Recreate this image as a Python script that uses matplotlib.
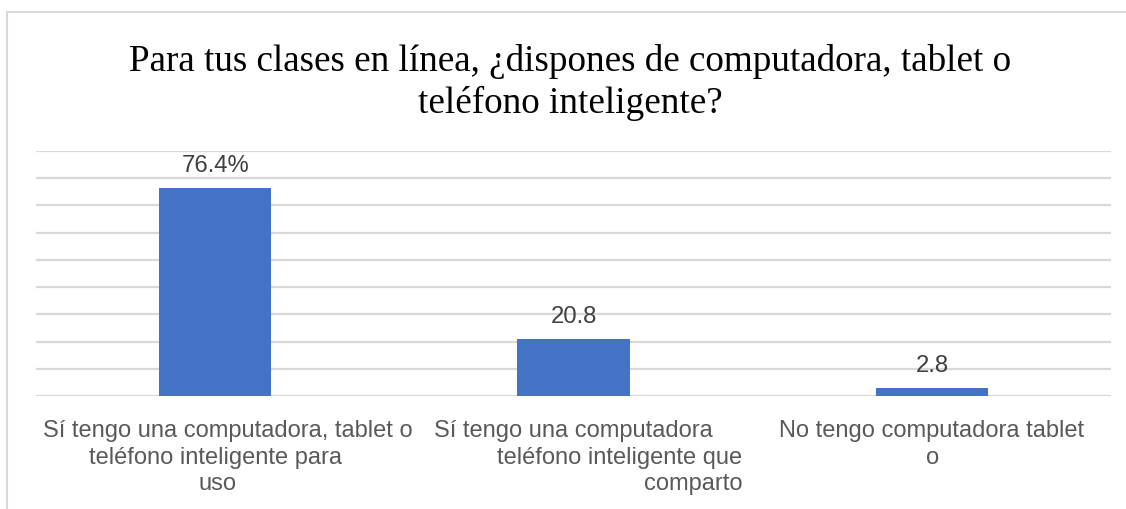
import matplotlib.pyplot as plt
from matplotlib.patches import Rectangle

# data
categories = [
    ['Sí tengo una computadora, tablet o', 'teléfono inteligente para', 'uso'],
    ['Sí tengo una computadora', 'teléfono inteligente que', 'comparto'],
    ['No tengo computadora tablet', 'o'],
]
values = [76.4, 20.8, 2.8]
value_labels = ['76.4%', '20.8', '2.8']

title = 'Para tus clases en línea, ¿dispones de computadora, tablet o\nteléfono inteligente?'

# per-line placement of the category text (Excel wraps these oddly)
line_align = [
    [('center', 13), ('center', 0), ('center', 2)],
    [('left', -139), ('right', 169), ('right', 169)],
    [('center', 0), ('center', 1)],
]

W, H = 1126, 510
fig = plt.figure(figsize=(W / 100, H / 100), dpi=100)
fig.patch.set_facecolor('white')

# chart border (cropped on right and bottom)
fig.patches.append(Rectangle((7 / W, -0.1), 1.2, (H - 13) / H + 0.1,
                             transform=fig.transFigure, fill=False,
                             edgecolor='#D9D9D9', linewidth=1.5))

ax = fig.add_axes([36 / W, (H - 397) / H, (1111 - 36) / W, (397 - 152) / H])
x = list(range(len(values)))
bars = ax.bar(x, values, width=0.313, color='#4472C4', zorder=3)

ax.set_xlim(-0.5, 2.5)
ax.set_ylim(0, 90)
ax.set_yticks(range(0, 91, 10))
ax.yaxis.grid(True, color='#D9D9D9', linewidth=1.6, zorder=0)
ax.tick_params(left=False, labelleft=False, bottom=False, labelbottom=False)
for s in ax.spines.values():
    s.set_visible(False)

for rect, lab in zip(bars, value_labels):
    ax.annotate(lab, (rect.get_x() + rect.get_width() / 2, rect.get_height()),
                xytext=(0, 17), textcoords='offset pixels', ha='center', va='baseline',
                fontsize=17.2, color='#404040', family='Liberation Sans')

line_base = [40, 67, 93]
for i, lines in enumerate(categories):
    for j, line in enumerate(lines):
        ha, dx = line_align[i][j]
        ax.annotate(line, (i, 0), xycoords=('data', 'axes fraction'),
                    xytext=(dx, -line_base[j]), textcoords='offset pixels',
                    ha=ha, va='baseline', fontsize=17, color='#595959',
                    family='Liberation Sans', annotation_clip=False)

fig.text(570 / W, (H - 113) / H, title, ha='center', va='baseline', fontsize=26.7,
         family='Liberation Serif', color='black', linespacing=1.24)

fig.savefig('out.png', dpi=100)
